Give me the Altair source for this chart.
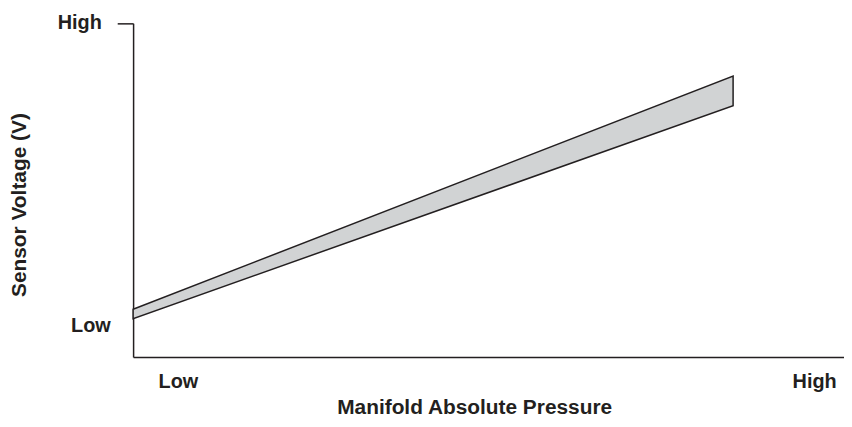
import altair as alt
import pandas as pd

# Band (sensor output tolerance), axes scaled 0..100
band_x = [0.0, 84.4]
band_upper = [14.3, 84.2]
band_lower = [11.5, 75.3]

x_tick_values = [6.3, 95.8]
x_tick_labels = ["Low", "High"]
y_tick_values = [7.7, 100.0]
y_tick_labels = ["Low", "High"]

df = pd.DataFrame({"x": band_x, "upper": band_upper, "lower": band_lower})

TXT = "#231f20"
FONT = "Liberation Sans"

x_expr = "datum.value > 50 ? '%s' : '%s'" % (x_tick_labels[1], x_tick_labels[0])
y_expr = "datum.value > 50 ? '%s' : '%s'" % (y_tick_labels[1], y_tick_labels[0])

chart = alt.Chart(df).mark_area(
    fill="#d1d3d4", stroke="#231f20", strokeWidth=1.5, opacity=1
).encode(
    x=alt.X("x:Q", scale=alt.Scale(domain=[0, 100], nice=False, zero=False),
            axis=alt.Axis(
                title="Manifold Absolute Pressure",
                values=x_tick_values, labelExpr=x_expr,
                ticks=False, grid=False,
                domainColor=TXT, domainWidth=1.5,
                labelFont=FONT, labelFontSize=20, labelFontWeight="bold",
                labelColor=TXT, labelBaseline="alphabetic", labelAlign="center",
                labelPadding=31,
                titleFont=FONT, titleFontSize=21, titleFontWeight="bold",
                titleColor=TXT, titleX=343.5, titleY=57,
                titleBaseline="alphabetic", titleAlign="center",
            )),
    y=alt.Y("upper:Q", scale=alt.Scale(domain=[0, 100], nice=False, zero=False),
            axis=alt.Axis(
                title="Sensor Voltage (V)",
                values=y_tick_values, labelExpr=y_expr,
                ticks=True, tickSize=16, tickWidth=1.5,
                tickColor=alt.condition("datum.value > 50", alt.value(TXT), alt.value("transparent")),
                labelPadding=alt.condition("datum.value > 50", alt.value(16), alt.value(7)),
                labelOffset=alt.condition("datum.value > 50", alt.value(5.5), alt.value(0)),
                grid=False,
                domainColor=TXT, domainWidth=1.5,
                labelFont=FONT, labelFontSize=20, labelFontWeight="bold",
                labelColor=TXT, labelBaseline="alphabetic", labelAlign="right",
                titleFont=FONT, titleFontSize=21, titleFontWeight="bold",
                titleColor=TXT, titleX=-108, titleY=182.5, titleAngle=-90,
                titleBaseline="alphabetic", titleAlign="center",
            )),
    y2="lower:Q",
).properties(
    width=716, height=336,
    background="white",
    autosize=alt.AutoSizeParams(type="none"),
    padding={"left": 126, "top": 14, "right": 0, "bottom": 60},
).configure_view(stroke=None, strokeWidth=0)

chart.save("out.html", embed_options={"renderer": "svg", "actions": False})
